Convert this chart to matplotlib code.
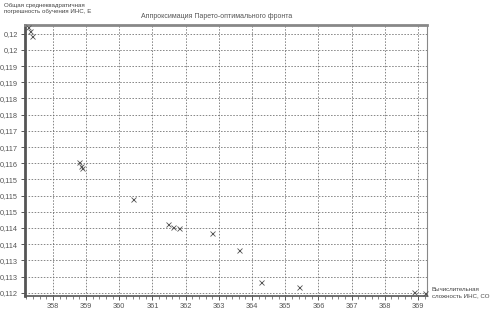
import numpy as np
import matplotlib
matplotlib.use("Agg")
import matplotlib.pyplot as plt
from matplotlib.ticker import FixedLocator, MultipleLocator

plt.rcParams['font.family'] = ['Liberation Sans', 'DejaVu Sans']

# Pareto front approximation points (complexity, error)
complexity = [357.25, 357.31, 357.37, 358.78, 358.84, 358.88, 360.41,
              361.46, 361.61, 361.81, 362.79, 363.61, 364.27, 365.41,
              368.88, 369.21]
error = [0.12020, 0.12008, 0.11993, 0.11603, 0.11591, 0.11584, 0.11489,
         0.11411, 0.11403, 0.11400, 0.11385, 0.11332, 0.11234, 0.11219,
         0.11202, 0.11199]

x_ticks = list(range(358, 370))
y_ticks = [0.112 + 0.0005 * k for k in range(17)]
y_labels = ["0,112", "0,113", "0,113", "0,114", "0,114", "0,115", "0,115",
            "0,115", "0,116", "0,117", "0,117", "0,118", "0,118", "0,119",
            "0,119", "0,12", "0,12"]

W, H = 491, 314
fig = plt.figure(figsize=(W / 100, H / 100), dpi=100)
ax = fig.add_axes([25 / W, 18 / H, 402 / W, 271 / H])

ax.plot(complexity, error, linestyle='none', marker='x', markersize=3.6,
        markeredgewidth=0.6, color='#555555', clip_on=False, zorder=3)

ax.set_xlim(357.16, 369.27)
ax.set_ylim(0.11190, 0.12027)

ax.xaxis.set_major_locator(FixedLocator(x_ticks))
ax.xaxis.set_minor_locator(MultipleLocator(0.2))
ax.set_yticks(y_ticks)
ax.set_yticklabels(y_labels)
ax.set_xticklabels([str(v) for v in x_ticks])

ax.grid(True, which='major', color='#666666', linestyle=(0, (2, 2)), linewidth=0.55)
ax.tick_params(axis='both', which='major', labelsize=5.3, colors='#555555',
               length=3, width=0.7, pad=2)
ax.tick_params(axis='x', which='minor', length=1.8, width=0.5, colors='#555555')

ax.spines['left'].set_linewidth(2.0)
ax.spines['left'].set_color('#555555')
ax.spines['bottom'].set_linewidth(1.2)
ax.spines['bottom'].set_color('#555555')
ax.spines['top'].set_linewidth(2.0)
ax.spines['top'].set_color('#888888')
ax.spines['right'].set_linewidth(0.8)
ax.spines['right'].set_color('#888888')

fig.text(217 / W, 1 - 17 / H, "Аппроксимация Парето-оптимального фронта",
         ha='center', va='center', fontsize=5.0, color='#555555')
fig.text(4 / W, 1 - 3 / H, "Общая среднеквадратичная\nпогрешность обучения ИНС, E",
         ha='left', va='top', fontsize=4.4, color='#444444', linespacing=1.3)
fig.text(432 / W, 1 - 287 / H, "Вычислительная\nсложность ИНС, СО",
         ha='left', va='top', fontsize=4.4, color='#444444', linespacing=1.3)

fig.savefig("out.png", dpi=100)
